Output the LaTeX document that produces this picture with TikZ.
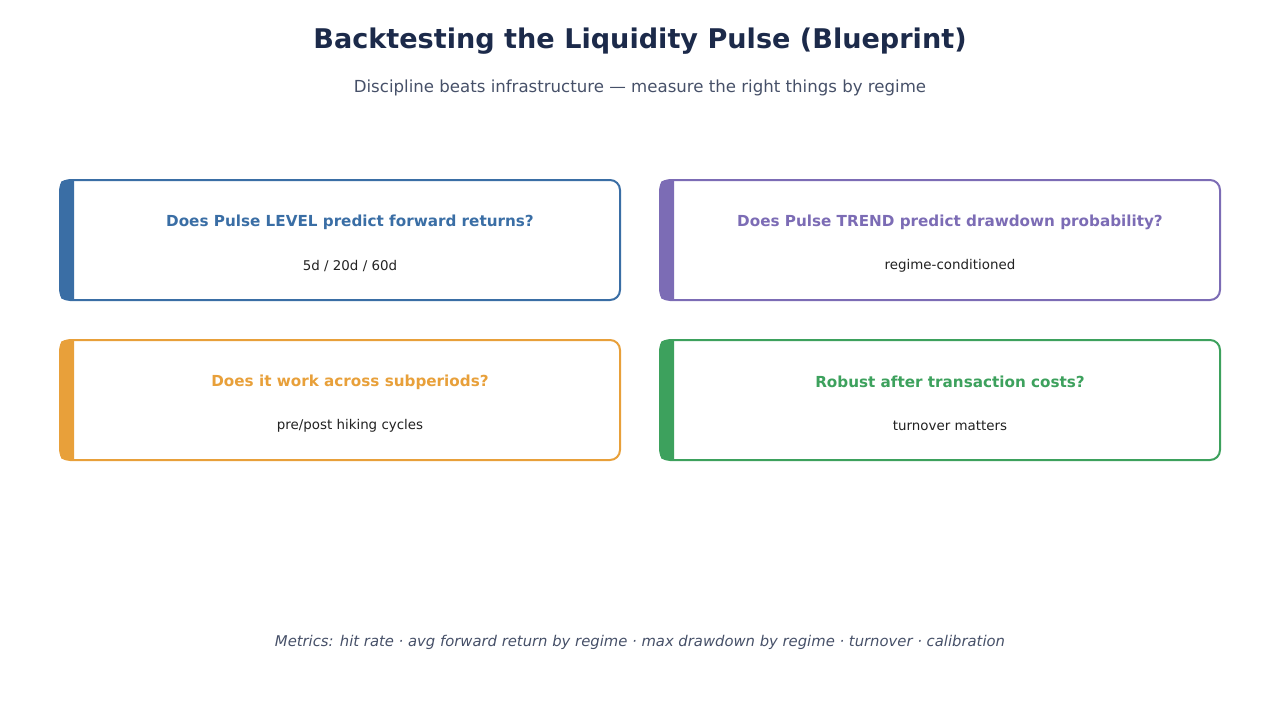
\documentclass[tikz,border=0pt]{standalone}
\usepackage{fontspec}
\setmainfont{DejaVu Sans}
\usetikzlibrary{positioning}
\definecolor{titleink}{RGB}{28,42,74}
\definecolor{subink}{RGB}{70,80,104}
\definecolor{bodyink}{RGB}{34,34,34}
\definecolor{levelblue}{RGB}{58,110,165}
\definecolor{trendpurple}{RGB}{124,108,181}
\definecolor{periodorange}{RGB}{232,160,58}
\definecolor{costgreen}{RGB}{61,161,93}

\begin{document}
\begin{tikzpicture}[
    x=1pt, y=-1pt,
    title/.style={font=\fontsize{27.1}{32}\selectfont\bfseries, text=titleink},
    subtitle/.style={font=\fontsize{16.6}{20}\selectfont, text=subink},
    card/.style={rectangle, draw=#1, line width=2pt, rounded corners=10pt,
                 fill=white, minimum width=560pt, minimum height=120pt,
                 inner sep=0pt, outer sep=0pt},
    cardhead/.style={font=\fontsize{15.2}{18}\selectfont\bfseries, text=#1},
    cardsub/.style={font=\fontsize{13.4}{16}\selectfont, text=bodyink},
    metrics/.style={font=\fontsize{14.8}{18}\selectfont\itshape, text=subink},
]
\useasboundingbox (0,0) rectangle (1280,720);

%---------------------------------------------------------------
% Header
%---------------------------------------------------------------
\node[title] (title) at (640,41) {Backtesting the Liquidity Pulse (Blueprint)};
\node[subtitle] (subtitle) at (640,87.5)
     {Discipline beats infrastructure — measure the right things by regime};

%---------------------------------------------------------------
% Four question cards, each with a coloured bar on its left edge
%---------------------------------------------------------------
\foreach \name/\cx/\cy/\col/\head/\sub in {
    level/340/240/levelblue/{Does Pulse LEVEL predict forward returns?}/{5d / 20d / 60d},
    trend/940/240/trendpurple/{Does Pulse TREND predict drawdown probability?}/{regime-conditioned},
    period/340/400/periodorange/{Does it work across subperiods?}/{pre/post hiking cycles},
    cost/940/400/costgreen/{Robust after transaction costs?}/{turnover matters}} {
    \node[card=\col] (\name) at (\cx,\cy) {};
    \fill[\col] ([xshift=14pt]\name.north west)
        [rounded corners=5pt] -- (\name.north west) -- (\name.south west)
        [sharp corners] -- ([xshift=14pt]\name.south west) -- cycle;
    \node[cardhead=\col] (\name-head) at (\cx+10,\cy-18) {\head};
    \node[cardsub] (\name-sub) at (\cx+10,\cy+26) {\sub};
}

%---------------------------------------------------------------
% Footer
%---------------------------------------------------------------
\node[metrics] (metrics) at (640,642)
     {Metrics: hit rate · avg forward return by regime · max drawdown by regime · turnover · calibration};

\end{tikzpicture}
\end{document}
